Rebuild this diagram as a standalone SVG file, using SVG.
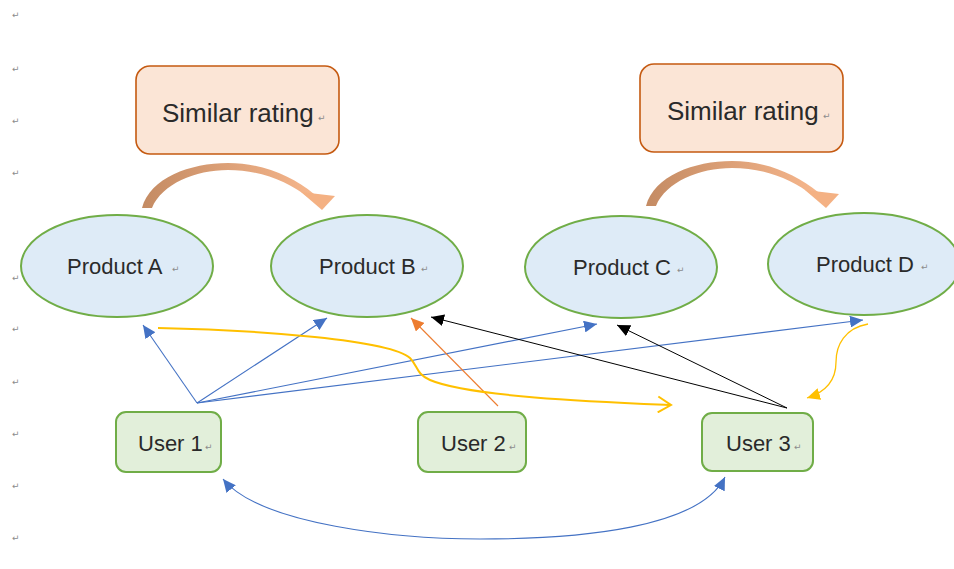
<svg xmlns="http://www.w3.org/2000/svg" width="954" height="569" viewBox="0 0 954 569">
<style>
.rating rect{fill:#fbe5d6;stroke:#c55a11;stroke-width:1.6}
.prod ellipse{fill:#deebf7;stroke:#70ad47;stroke-width:2}
.user rect{fill:#e2efda;stroke:#70ad47;stroke-width:2}
.lbl{font-family:"Liberation Sans",Arial,sans-serif;fill:#2a2a2a}
.ret{font-family:"DejaVu Sans",sans-serif;font-size:9px;fill:#8c8c8c}
.conn path{fill:none}
.b{stroke:#4472c4;stroke-width:1.1}
.o{stroke:#ed7d31;stroke-width:1.1}
.k{stroke:#000;stroke-width:1}
.y{stroke:#ffc000}
</style>
<defs>
<marker id="ab" markerUnits="userSpaceOnUse" markerWidth="14" markerHeight="12" refX="13" refY="6" orient="auto-start-reverse"><path d="M0,0 L13,6 L0,12 z" fill="#4472c4"/></marker>
<marker id="ao" markerUnits="userSpaceOnUse" markerWidth="14" markerHeight="12" refX="13" refY="6" orient="auto"><path d="M0,0 L13,6 L0,12 z" fill="#ed7d31"/></marker>
<marker id="ak" markerUnits="userSpaceOnUse" markerWidth="14" markerHeight="12" refX="13" refY="6" orient="auto"><path d="M0,0 L13,6 L0,12 z" fill="#000"/></marker>
<marker id="ay" markerUnits="userSpaceOnUse" markerWidth="14" markerHeight="12" refX="13" refY="6" orient="auto"><path d="M0,0 L13,6 L0,12 z" fill="#ffc000"/></marker>
<marker id="ayo" markerUnits="userSpaceOnUse" markerWidth="16" markerHeight="18" refX="14" refY="9" orient="auto"><path d="M1,1 L14,9 L1,17" fill="none" stroke="#ffc000" stroke-width="2"/></marker>
<linearGradient id="gr" gradientUnits="objectBoundingBox" x1="0" y1="0" x2="1" y2="0"><stop offset="0" stop-color="#c48b63"/><stop offset="1" stop-color="#f6b68c"/></linearGradient>
<g id="sim">
<path d="M142 208 C150 178 190 163 228 163 C262 163 292 176 314 194 L309 198 C288 181 260 170 228 170 C195 170 162 184 152 208 Z" fill="url(#gr)"/>
<polygon points="301,192 335,196 322,210" fill="#f4b183"/>
</g>
</defs>

<g id="margin-marks" class="ret">
<text x="12" y="18">↵</text><text x="12" y="72">↵</text><text x="12" y="124">↵</text><text x="12" y="176">↵</text>
<text x="12" y="281">↵</text><text x="12" y="332">↵</text><text x="12" y="385">↵</text><text x="12" y="437">↵</text>
<text x="12" y="489">↵</text><text x="12" y="541">↵</text>
</g>

<g id="rating1" class="rating">
<rect x="136" y="66" width="203" height="88" rx="14"/>
<text class="lbl" x="162" y="122" font-size="26">Similar rating</text>
<text class="ret" x="318" y="121">↵</text>
</g>
<g id="rating2" class="rating">
<rect x="640" y="64" width="203" height="88" rx="14"/>
<text class="lbl" x="667" y="120" font-size="26">Similar rating</text>
<text class="ret" x="823" y="119">↵</text>
</g>

<g id="similar-arrows">
<use href="#sim"/>
<use href="#sim" transform="translate(504,-2)"/>
</g>

<g id="productA" class="prod">
<ellipse cx="117" cy="266" rx="96" ry="51"/>
<text class="lbl" x="67" y="274" font-size="22">Product A</text>
<text class="ret" x="172" y="272">↵</text>
</g>
<g id="productB" class="prod">
<ellipse cx="367" cy="266" rx="96" ry="51"/>
<text class="lbl" x="319" y="274" font-size="22">Product B</text>
<text class="ret" x="421" y="272">↵</text>
</g>
<g id="productC" class="prod">
<ellipse cx="621" cy="267" rx="96" ry="51"/>
<text class="lbl" x="573" y="275" font-size="22">Product C</text>
<text class="ret" x="677" y="273">↵</text>
</g>
<g id="productD" class="prod">
<ellipse cx="864" cy="264" rx="96" ry="51"/>
<text class="lbl" x="816" y="272" font-size="22">Product D</text>
<text class="ret" x="921" y="270">↵</text>
</g>

<g id="user1" class="user">
<rect x="116" y="412" width="105" height="60" rx="10"/>
<text class="lbl" x="138" y="451" font-size="22">User 1</text>
<text class="ret" x="205" y="450">↵</text>
</g>
<g id="user2" class="user">
<rect x="418" y="412" width="108" height="60" rx="10"/>
<text class="lbl" x="441" y="451" font-size="22">User 2</text>
<text class="ret" x="509" y="450">↵</text>
</g>
<g id="user3" class="user">
<rect x="702" y="413" width="111" height="58" rx="10"/>
<text class="lbl" x="726" y="451" font-size="22">User 3</text>
<text class="ret" x="794" y="450">↵</text>
</g>

<g id="connectors" class="conn">
<path class="b" d="M197 403 L143 325" marker-end="url(#ab)"/>
<path class="b" d="M197 403 L327 318" marker-end="url(#ab)"/>
<path class="b" d="M197 403 L597 324" marker-end="url(#ab)"/>
<path class="b" d="M197 403 L863 320" marker-end="url(#ab)"/>
<path class="o" d="M498 406 L411 318" marker-end="url(#ao)"/>
<path class="k" d="M787 408 L431 317" marker-end="url(#ak)"/>
<path class="k" d="M787 408 L617 325" marker-end="url(#ak)"/>
<path class="y" stroke-width="2" d="M158 328 C260 330 390 340 410 358 C418 366 416 374 430 380 C470 397 600 402 671 405" marker-end="url(#ayo)"/>
<path class="y" stroke-width="1.3" d="M868 324 C845 328 836 345 836 362 C836 380 826 392 807 398" marker-end="url(#ay)"/>
<path class="b" d="M223 479 C260 525 400 539 480 539 C580 539 700 528 725 477" marker-start="url(#ab)" marker-end="url(#ab)"/>
</g>
</svg>
